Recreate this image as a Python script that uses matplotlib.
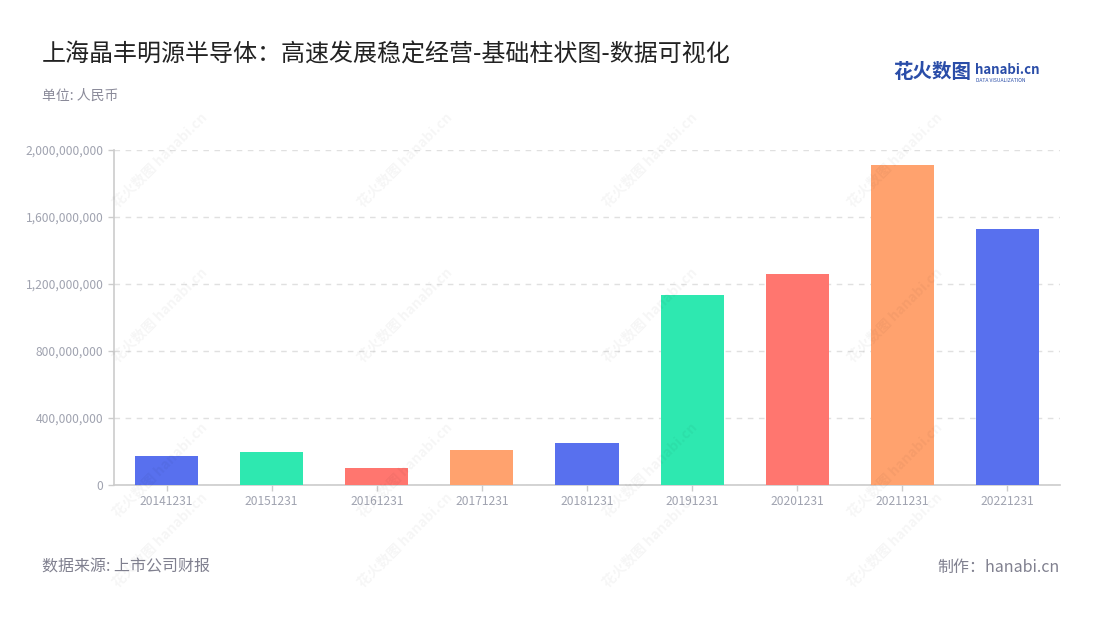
import numpy as np
import matplotlib
matplotlib.use('Agg')
import matplotlib.pyplot as plt
from matplotlib.ticker import FuncFormatter

plt.rcParams['font.family'] = ['Noto Sans CJK SC', 'DejaVu Sans']

# 数据
dates = ['20141231', '20151231', '20161231', '20171231', '20181231',
         '20191231', '20201231', '20211231', '20221231']
revenue = [173e6, 199e6, 100e6, 209e6, 252e6, 1133e6, 1260e6, 1909e6, 1527e6]
palette = ['#5870EE', '#2EE8B0', '#FF766F', '#FFA26E']
y_ticks = [0, 400e6, 800e6, 1200e6, 1600e6, 2000e6]

title = '上海晶丰明源半导体：高速发展稳定经营-基础柱状图-数据可视化'
unit = '单位: 人民币'
source = '数据来源: 上市公司财报'
maker = '制作：hanabi.cn'

fig = plt.figure(figsize=(11, 6.2), dpi=100)
ax = fig.add_axes([114 / 1100, 135 / 620, 946 / 1100, 335 / 620])

# 水印
for wx in [160, 405, 650, 895]:
    for wy in [160, 315, 470, 540]:
        fig.text(wx / 1100, 1 - wy / 620, '花火数图 hanabi.cn', rotation=45,
                 ha='center', va='center', fontsize=10, fontweight='bold',
                 color='#000000', alpha=0.04, zorder=0)

x = np.arange(len(dates))
colors = [palette[i % len(palette)] for i in range(len(dates))]
ax.bar(x, revenue, width=0.6, color=colors, zorder=3)

ax.set_xlim(-0.5, len(dates) - 0.5)
ax.set_ylim(0, 2000e6)
ax.set_yticks(y_ticks)
ax.yaxis.set_major_formatter(FuncFormatter(lambda v, p: f'{int(v):,}'))
ax.set_xticks(x)
ax.set_xticklabels(dates)
ax.grid(axis='y', color='#e0e0e0', linestyle=(0, (4, 4)), linewidth=1, zorder=0)
ax.set_axisbelow(True)

for s in ['top', 'right']:
    ax.spines[s].set_visible(False)
for s in ['left', 'bottom']:
    ax.spines[s].set_color('#cccccc')
    ax.spines[s].set_linewidth(1.2)
ax.tick_params(axis='both', colors='#cccccc', labelcolor='#a0a3b0', labelsize=8.7,
               length=4, width=1)
ax.tick_params(axis='x', pad=3)
ax.patch.set_alpha(0)

fig.text(42 / 1100, 1 - 55 / 620, title, fontsize=17.3, color='#222222', va='center')
fig.text(42 / 1100, 1 - 96 / 620, unit, fontsize=10, color='#8a8a99', va='center')
fig.text(42 / 1100, 1 - 567 / 620, source, fontsize=11.5, color='#80808f', va='center')
fig.text(1060 / 1100, 1 - 567 / 620, maker, fontsize=11.5, color='#80808f',
         va='center', ha='right')

# logo
fig.text(893 / 1100, 1 - 73 / 620, '花火数图', fontsize=14, fontweight='bold',
         color='#2A4DA8', va='center')
fig.text(975 / 1100, 1 - 70 / 620, 'hanabi.cn', fontsize=9.5, fontweight='bold',
         color='#2A4DA8', va='center')
fig.text(976 / 1100, 1 - 80 / 620, 'DATA VISUALIZATION', fontsize=3.6,
         color='#2A4DA8', va='center')

fig.savefig('out.png', dpi=100, facecolor='white')
